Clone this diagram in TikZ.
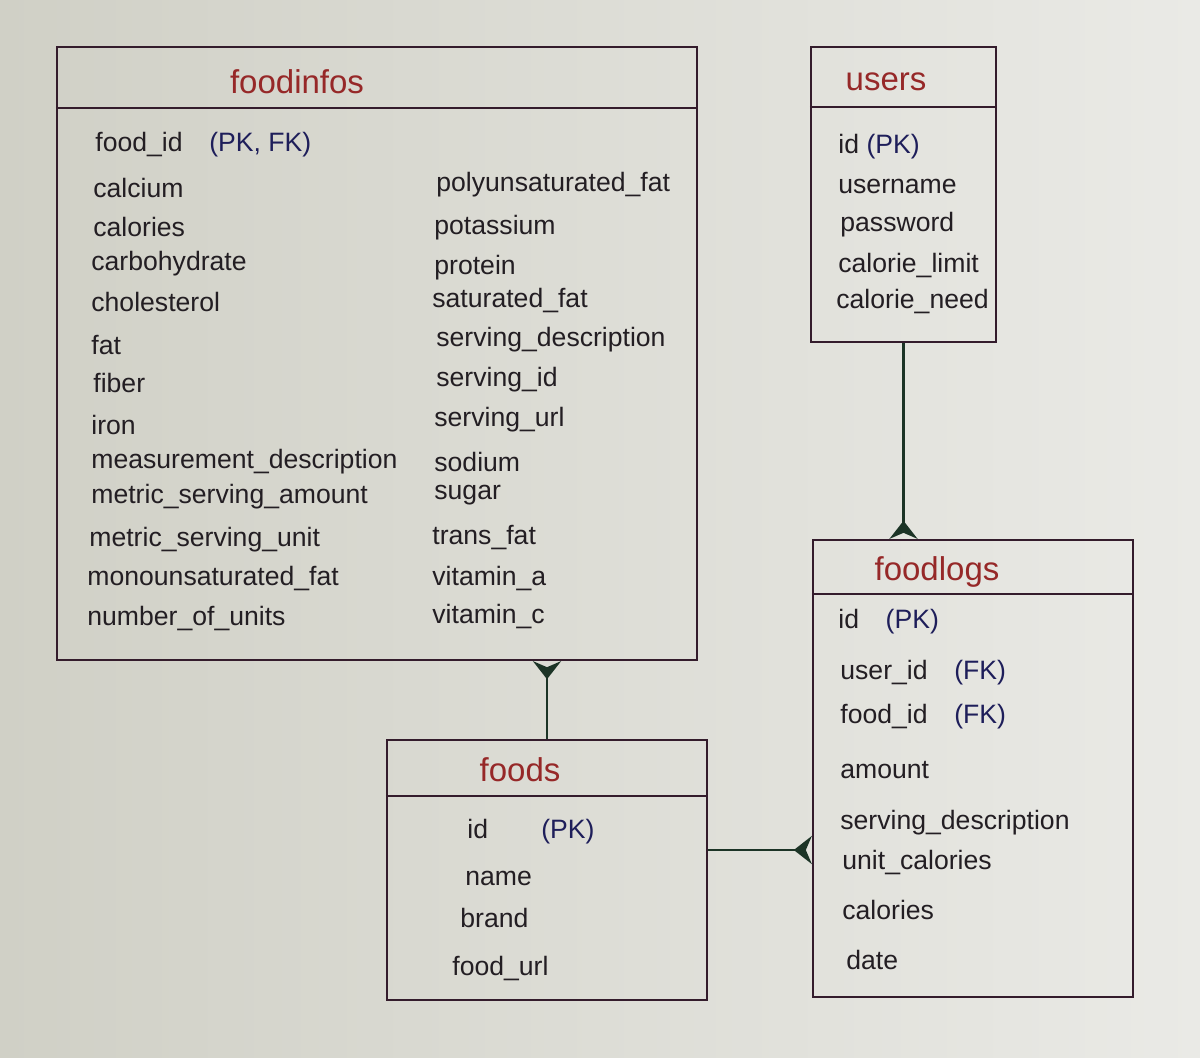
\documentclass[tikz,border=0pt]{standalone}
\usepackage{fontspec}
\setmainfont{Liberation Sans}
\usetikzlibrary{arrows.meta,calc}
\definecolor{paperL}{RGB}{208,208,198}
\definecolor{paperR}{RGB}{234,234,230}
\definecolor{boxline}{RGB}{52,28,44}
\definecolor{titlered}{RGB}{150,40,40}
\definecolor{keyblue}{RGB}{30,30,90}
\definecolor{inkblack}{RGB}{35,30,35}
\definecolor{linkgreen}{RGB}{28,52,38}
\tikzset{
  entity/.style={draw=boxline, line width=1.2pt, rectangle, inner sep=0pt},
  hdr/.style={draw=boxline, line width=1.1pt},
  title/.style={text=titlered, font=\fontsize{16.5}{18}\selectfont, inner sep=0pt},
  attr/.style={text=inkblack, font=\fontsize{13.3}{15}\selectfont, anchor=west, inner sep=0pt},
  link/.style={draw=linkgreen, line width=1.3pt},
  crow/.style={-{Stealth[reversed, length=9pt, width=14pt, inset=3pt]}},
}
\newcommand{\pk}[1]{\textcolor{keyblue}{#1}}
\begin{document}
\begin{tikzpicture}[x=0.5pt, y=-0.5pt]
\shade[left color=paperL, right color=paperR] (0,0) rectangle (1200,1057);
\useasboundingbox (0,0) rectangle (1200,1057);

% boxes
\node[entity, minimum width=320pt, minimum height=306.5pt] (foodinfos) at (377,353.5) {};
\node[entity, minimum width=92.5pt, minimum height=147.5pt] (users) at (903.5,194.5) {};
\node[entity, minimum width=160pt, minimum height=228.5pt] (foodlogs) at (973,768.5) {};
\node[entity, minimum width=160pt, minimum height=130pt] (foods) at (547,870) {};

% header lines
\draw[hdr] ($(foodinfos.north west)+(0,62)$) -- ($(foodinfos.north east)+(0,62)$);
\draw[hdr] ($(users.north west)+(0,61)$) -- ($(users.north east)+(0,61)$);
\draw[hdr] ($(foodlogs.north west)+(0,55)$) -- ($(foodlogs.north east)+(0,55)$);
\draw[hdr] ($(foods.north west)+(0,57)$) -- ($(foods.north east)+(0,57)$);

% titles
\node[title] (t-foodinfos) at (297,82) {foodinfos};
\node[title] (t-users) at (886,82) {users};
\node[title] (t-foodlogs) at (937,572) {foodlogs};
\node[title] (t-foods) at (520,770) {foods};

% foodinfos attributes, column 1
\node[attr] (fi1) at (95,145) {food\_id\quad \pk{(PK, FK)}};
\node[attr] (fi2) at (93,188) {calcium};
\node[attr] (fi3) at (93,227) {calories};
\node[attr] (fi4) at (91,264) {carbohydrate};
\node[attr] (fi5) at (91,302) {cholesterol};
\node[attr] (fi6) at (91,345) {fat};
\node[attr] (fi7) at (93,383) {fiber};
\node[attr] (fi8) at (91,425) {iron};
\node[attr] (fi9) at (91,462) {measurement\_description};
\node[attr] (fi10) at (91,497) {metric\_serving\_amount};
\node[attr] (fi11) at (89,540) {metric\_serving\_unit};
\node[attr] (fi12) at (87,578) {monounsaturated\_fat};
\node[attr] (fi13) at (87,618) {number\_of\_units};
% column 2
\node[attr] (fj1) at (436,185) {polyunsaturated\_fat};
\node[attr] (fj2) at (434,228) {potassium};
\node[attr] (fj3) at (434,268) {protein};
\node[attr] (fj4) at (432,300) {saturated\_fat};
\node[attr] (fj5) at (436,340) {serving\_description};
\node[attr] (fj6) at (436,380) {serving\_id};
\node[attr] (fj7) at (434,420) {serving\_url};
\node[attr] (fj8) at (434,462) {sodium};
\node[attr] (fj9) at (434,495) {sugar};
\node[attr] (fj10) at (432,538) {trans\_fat};
\node[attr] (fj11) at (432,578) {vitamin\_a};
\node[attr] (fj12) at (432,616) {vitamin\_c};

% users attributes
\node[attr] (u1) at (838,147) {id \pk{(PK)}};
\node[attr] (u2) at (838,186) {username};
\node[attr] (u3) at (840,225) {password};
\node[attr] (u4) at (838,265) {calorie\_limit};
\node[attr] (u5) at (836,301) {calorie\_need};

% foodlogs attributes
\node[attr] (l1) at (838,622) {id\quad \pk{(PK)}};
\node[attr] (l2) at (840,673) {user\_id\quad \pk{(FK)}};
\node[attr] (l3) at (840,717) {food\_id\quad \pk{(FK)}};
\node[attr] (l4) at (840,770) {amount};
\node[attr] (l5) at (840,823) {serving\_description};
\node[attr] (l6) at (842,862) {unit\_calories};
\node[attr] (l7) at (842,910) {calories};
\node[attr] (l8) at (846,960) {date};

% foods attributes
\node[attr] (f1) at (467,832) {id\qquad \pk{(PK)}};
\node[attr] (f2) at (465,878) {name};
\node[attr] (f3) at (460,918) {brand};
\node[attr] (f4) at (452,968) {food\_url};

% connectors
\coordinate (fo-out) at ($(foods.east)+(0,-20)$);
\draw[link, crow] (foods.north) -- (foods.north |- foodinfos.south);
\draw[link, crow] (users.south) -- (users.south |- foodlogs.north);
\draw[link, crow] (fo-out) -- (fo-out -| foodlogs.west);
\end{tikzpicture}
\end{document}
